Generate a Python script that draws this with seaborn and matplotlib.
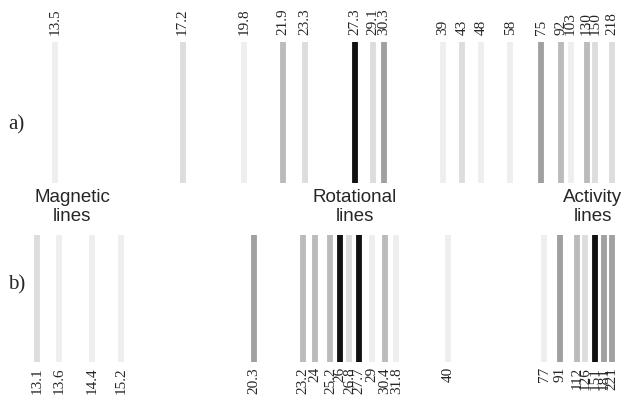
import matplotlib
matplotlib.use('Agg')
import matplotlib.pyplot as plt
import seaborn as sns
import pandas as pd

# ---------------- data ----------------
# periods (days) and strength level (1 = faint ... 5 = strongest)
top_labels = ['13.5', '17.2', '19.8', '21.9', '23.3', '27.3', '29.1', '30.3',
              '39', '43', '48', '58', '75', '92', '103', '130', '150', '218']
top_levels = [1, 2, 1, 3, 2, 5, 2, 4, 1, 2, 1, 1, 4, 3, 1, 3, 2, 2]

bot_labels = ['13.1', '13.6', '14.4', '15.2', '20.3', '23.2', '24', '25.2', '26',
              '26.8', '27.7', '29', '30.4', '31.8', '40', '77', '91', '112',
              '126', '151', '181', '221']
bot_levels = [2, 1, 1, 1, 4, 3, 3, 3, 5, 2, 5, 1, 3, 1, 1, 1, 4, 3, 2, 5, 4, 4]

groups = ['Magnetic\nlines', 'Rotational\nlines', 'Activity\nlines']
group_periods = [13.9, 27.3, 145]

shades = {1: '#eeeeee', 2: '#dddddd', 3: '#bbbbbb', 4: '#a0a0a0', 5: '#111111'}

top = pd.DataFrame({'label': top_labels, 'level': top_levels})
top['freq'] = 1.0 / top['label'].astype(float)
bot = pd.DataFrame({'label': bot_labels, 'level': bot_levels})
bot['freq'] = 1.0 / bot['label'].astype(float)

# ---------------- plot ----------------
sns.set_style('white')
plt.rcParams['font.family'] = ['Liberation Serif', 'DejaVu Serif']

fig = plt.figure(figsize=(6.26, 4.0), dpi=100)
ax_a = fig.add_axes([0, 1 - 183 / 400, 1, 141 / 400])
ax_b = fig.add_axes([0, 1 - 362 / 400, 1, 127 / 400])

xlim = (0.08094, 0.00278)  # frequency axis, long periods to the right

for ax, df, up in [(ax_a, top, True), (ax_b, bot, False)]:
    sns.rugplot(data=df, x='freq', hue='level', palette=shades, height=1,
                linewidth=4.2, legend=False, expand_margins=False, ax=ax)
    ax.set_xlim(*xlim)
    ax.set_ylim(0, 1)
    ax.axis('off')
    trans = ax.get_xaxis_transform()
    for f, lab in zip(df['freq'], df['label']):
        if up:
            ax.text(f, 1 + 7 / 141, lab, transform=trans, rotation=90,
                    ha='center', va='bottom', fontsize=11, clip_on=False)
        else:
            ax.text(f, -5 / 127, lab, transform=trans, rotation=90, ha='center',
                    va='top', fontsize=11, clip_on=False)

# group titles between the panels
for name, p in zip(groups, group_periods):
    ax_b.text(1.0 / p, 1 + 28 / 127, name, transform=ax_b.get_xaxis_transform(),
              ha='center', va='center', fontsize=13.5, family='Liberation Sans',
              linespacing=1.2, clip_on=False)

fig.text(8 / 626, 1 - 125 / 400, 'a)', fontsize=15, ha='left', va='center')
fig.text(8 / 626, 1 - 285 / 400, 'b)', fontsize=15, ha='left', va='center')

fig.savefig('out.png', dpi=100)
